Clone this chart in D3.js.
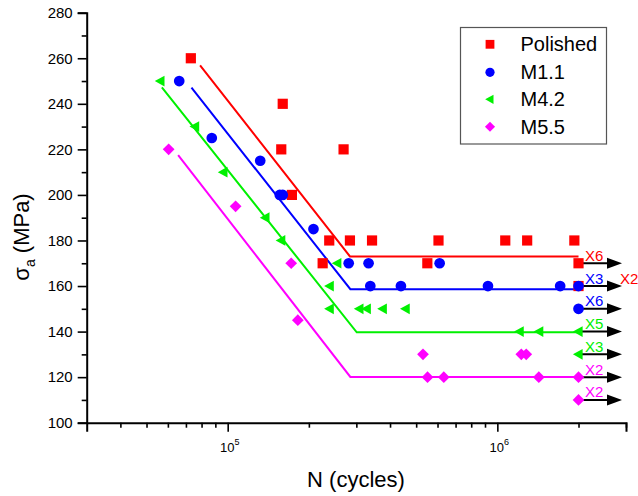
<!DOCTYPE html>
<html>
<head>
<meta charset="utf-8">
<script src="https://cdn.jsdelivr.net/npm/d3@7"></script>
<style>
  html, body { margin: 0; padding: 0; background: #fff; }
  svg { display: block; font-family: "Liberation Sans", Arial, sans-serif; }
</style>
</head>
<body>
<svg id="chart" width="638" height="496"></svg>
<script>
// ---------------- data ----------------
const seriesNames = ["Polished", "M1.1", "M4.2", "M5.5"];

const polishedN = [73000, 160000, 158000, 173000, 269000, 238000, 284000, 343000, 605000, 1070000, 1290000, 1930000, 225000, 550000, 2000000, 2000000];
const polishedS = [260, 240, 220, 200, 220, 180, 180, 180, 180, 180, 180, 180, 170, 170, 170, 160];

const m11N = [66100, 87300, 132000, 156000, 160000, 208000, 281000, 333000, 611000, 338000, 439000, 923000, 1710000, 2000000, 2000000];
const m11S = [250, 225, 215, 200, 200, 185, 170, 170, 170, 160, 160, 160, 160, 160, 150];

const m42N = [56300, 75700, 96400, 138000, 158000, 255000, 239000, 239000, 308000, 328000, 376000, 457000, 1210000, 1430000, 2000000, 2000000];
const m42S = [250, 230, 210, 190, 180, 170, 160, 150, 150, 150, 150, 150, 140, 140, 140, 130];

const m55N = [60400, 107000, 172000, 182000, 530000, 1227000, 1280000, 551000, 633000, 1425000, 2000000, 2000000];
const m55S = [220, 195, 170, 145, 130, 130, 130, 120, 120, 120, 120, 110];

// fitted S-N curves: [N, stress] start, knee, end
const fitPolished = [[79000, 256.9], [284000, 173.0], [2000000, 173.0]];
const fitM11 = [[73400, 247.1], [285000, 158.6], [2000000, 158.6]];
const fitM42 = [[57000, 247.2], [301000, 139.7], [2000000, 139.7]];
const fitM55 = [[65500, 217.5], [285000, 120.1], [2000000, 120.1]];

// run-outs
const runoutStart = 2000000;
const runoutEnd = 2900000;
const runoutStress = [170, 160, 150, 140, 130, 120, 110];
const runoutLabels = ["X6", "X3", "X6", "X5", "X3", "X2", "X2"];
const runoutSeries = ["Polished", "M1.1", "M1.1", "M4.2", "M4.2", "M5.5", "M5.5"];
const extraLabels = ["X2"];
const extraStress = [160];
const extraSeries = ["Polished"];

// ticks
const yTicks = [100, 120, 140, 160, 180, 200, 220, 240, 260, 280];
const yMinorTicks = [110, 130, 150, 170, 190, 210, 230, 250, 270];
const xMajorTicks = [1e5, 1e6];
const xMajorExp = ["5", "6"];
const xMinorTicks = [4e4, 5e4, 6e4, 7e4, 8e4, 9e4, 2e5, 3e5, 4e5, 5e5, 6e5, 7e5, 8e5, 9e5, 2e6, 3e6];

// ---------------- drawing ----------------
const colors = { "Polished": "#ff0000", "M1.1": "#0000ff", "M4.2": "#00f000", "M5.5": "#ff00ff" };
const svg = d3.select("#chart");

const x = d3.scaleLog().domain([3e4, 3e6]).range([86.7, 626]);
const y = d3.scaleLinear().domain([100, 280]).range([422.7, 12.7]);

// axes
const yAxisG = svg.append("g").attr("transform", `translate(${x(3e4)},0)`)
  .call(d3.axisLeft(y).tickValues(yTicks).tickSize(9).tickPadding(5).tickFormat(d3.format("d")));
svg.append("g").attr("transform", `translate(${x(3e4)},0)`)
  .call(d3.axisLeft(y).tickValues(yMinorTicks).tickSize(5).tickFormat(""))
  .select(".domain").remove();

const xAxisG = svg.append("g").attr("transform", `translate(0,${y(100)})`)
  .call(d3.axisBottom(x).tickValues(xMajorTicks).tickSize(9).tickFormat(""));
svg.append("g").attr("transform", `translate(0,${y(100)})`)
  .call(d3.axisBottom(x).tickValues(xMinorTicks).tickSize(5).tickFormat(""))
  .select(".domain").remove();

svg.selectAll(".domain").attr("stroke", "#000").attr("stroke-width", 2);
svg.selectAll(".tick line").attr("stroke", "#000").attr("stroke-width", 1.6);
yAxisG.selectAll(".tick text").attr("font-size", 15).attr("fill", "#000")
  .attr("font-family", "Liberation Sans, Arial, sans-serif");

// x tick labels with superscripts
xMajorTicks.forEach((v, i) => {
  const t = svg.append("text").attr("x", x(v) + 2).attr("y", 452)
    .attr("text-anchor", "middle").attr("font-size", 13).attr("fill", "#000");
  t.append("tspan").text("10");
  t.append("tspan").attr("font-size", 9).attr("dy", -7).text(xMajorExp[i]);
});

// axis titles
svg.append("text").attr("x", 356).attr("y", 487).attr("text-anchor", "middle")
  .attr("font-size", 22).attr("fill", "#000").text("N (cycles)");
const yt = svg.append("text").attr("transform", "translate(29,237) rotate(-90)")
  .attr("text-anchor", "middle").attr("font-size", 22).attr("fill", "#000");
yt.append("tspan").text("σ");
yt.append("tspan").attr("font-size", 14).attr("dy", 6).text("a");
yt.append("tspan").attr("dy", -6).text(" (MPa)");

// fit lines
const line = d3.line().x(d => x(d[0])).y(d => y(d[1]));
const fits = [fitPolished, fitM11, fitM42, fitM55];
fits.forEach((f, i) => {
  svg.append("path").datum(f).attr("d", line).attr("fill", "none")
    .attr("stroke", colors[seriesNames[i]]).attr("stroke-width", 2);
});

// arrows for run-outs
runoutStress.forEach(s => {
  const yy = y(s), x0 = x(runoutStart), x1 = x(runoutEnd);
  svg.append("line").attr("x1", x0).attr("x2", x1 - 12).attr("y1", yy).attr("y2", yy)
    .attr("stroke", "#000").attr("stroke-width", 2);
  svg.append("path").attr("d", `M${x1},${yy} L${x1 - 15},${yy - 5.5} L${x1 - 15},${yy + 5.5} Z`).attr("fill", "#000");
});

// markers
function markerPath(name, size) {
  const s = size;
  if (name === "Polished") return `M${-s},${-s}H${s}V${s}H${-s}Z`;
  if (name === "M1.1") return d3.symbol(d3.symbolCircle, Math.PI * s * s * 1.1)();
  if (name === "M4.2") return `M${-s * 1.1},0L${s * 0.8},${-s * 1.05}L${s * 0.8},${s * 1.05}Z`;
  return `M0,${-s * 1.15}L${s * 1.15},0L0,${s * 1.15}L${-s * 1.15},0Z`;
}
const allN = [polishedN, m11N, m42N, m55N];
const allS = [polishedS, m11S, m42S, m55S];
seriesNames.forEach((name, i) => {
  const pts = allN[i].map((n, j) => [n, allS[i][j]]);
  svg.append("g").selectAll("path").data(pts).join("path")
    .attr("transform", d => `translate(${x(d[0])},${y(d[1])})`)
    .attr("d", markerPath(name, 5.1))
    .attr("fill", colors[name]);
});

// run-out labels
runoutStress.forEach((s, i) => {
  svg.append("text").attr("x", x(runoutStart) + 6.5).attr("y", y(s) - 2.5)
    .attr("font-size", 15).attr("fill", colors[runoutSeries[i]]).text(runoutLabels[i]);
});
extraStress.forEach((s, i) => {
  svg.append("text").attr("x", 620).attr("y", y(s) - 2)
    .attr("font-size", 15).attr("fill", colors[extraSeries[i]]).text(extraLabels[i]);
});

// legend
const lg = svg.append("g");
lg.append("rect").attr("x", 460.5).attr("y", 27.5).attr("width", 146).attr("height", 116.5)
  .attr("fill", "#fff").attr("stroke", "#555").attr("stroke-width", 1.2);
const legendY = [44.3, 72.3, 99.3, 126.7];
seriesNames.forEach((name, i) => {
  lg.append("path").attr("transform", `translate(490,${legendY[i]})`)
    .attr("d", markerPath(name, 4.4)).attr("fill", colors[name]);
  lg.append("text").attr("x", 520.5).attr("y", legendY[i] + 7)
    .attr("font-size", 20).attr("fill", "#000").text(name);
});
</script>
</body>
</html>
